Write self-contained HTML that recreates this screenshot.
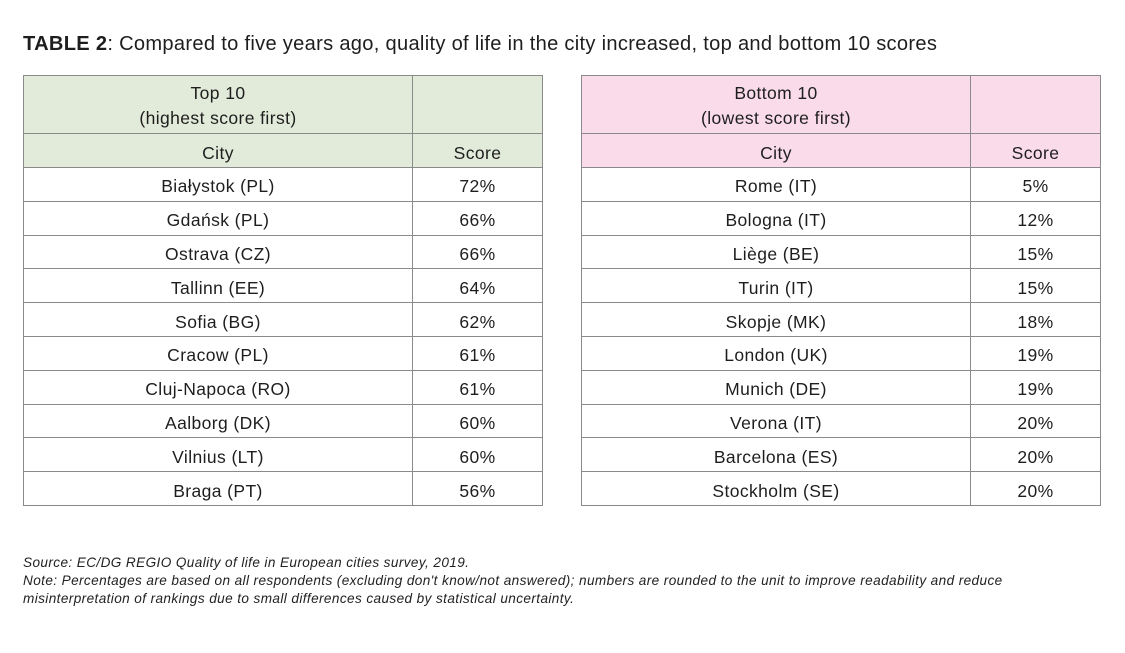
<!DOCTYPE html>
<html><head><meta charset="utf-8">
<style>
body{margin:0;background:#fff;width:1125px;height:653px;position:relative;overflow:hidden;font-family:"Liberation Sans",sans-serif;color:#1e1e1e;}
.title{position:absolute;left:23px;top:31px;font-size:20.1px;letter-spacing:0.3px;white-space:nowrap;line-height:26px;}
.title b{font-weight:bold;}
table{position:absolute;top:75px;border-collapse:collapse;font-size:17.5px;letter-spacing:0.4px;table-layout:fixed;}
td{border:1.5px solid #8a8a8a;text-align:center;padding:4px 0 0 0;line-height:20px;box-sizing:border-box;}
.h1 td{height:58px;line-height:25px;padding-top:3px;}
.h2 td{height:34px;}
.r td{height:33.8px;}
.g td.hd{background:#e2ead9;}
.p td.hd{background:#f9dbe9;}
.foot{position:absolute;left:23px;top:554px;font-size:13.6px;letter-spacing:0.39px;font-style:italic;line-height:18px;color:#222;white-space:nowrap;}
</style></head><body>
<div class="title"><b>TABLE 2</b>: Compared to five years ago, quality of life in the city increased, top and bottom 10 scores</div>

<table class="g" style="left:23px;width:519px;">
<colgroup><col style="width:389px"><col style="width:130px"></colgroup>
<tr class="h1"><td class="hd">Top 10<br>(highest score first)</td><td class="hd"></td></tr>
<tr class="h2"><td class="hd">City</td><td class="hd">Score</td></tr>
<tr class="r"><td>Białystok (PL)</td><td>72%</td></tr>
<tr class="r"><td>Gdańsk (PL)</td><td>66%</td></tr>
<tr class="r"><td>Ostrava (CZ)</td><td>66%</td></tr>
<tr class="r"><td>Tallinn (EE)</td><td>64%</td></tr>
<tr class="r"><td>Sofia (BG)</td><td>62%</td></tr>
<tr class="r"><td>Cracow (PL)</td><td>61%</td></tr>
<tr class="r"><td>Cluj-Napoca (RO)</td><td>61%</td></tr>
<tr class="r"><td>Aalborg (DK)</td><td>60%</td></tr>
<tr class="r"><td>Vilnius (LT)</td><td>60%</td></tr>
<tr class="r"><td>Braga (PT)</td><td>56%</td></tr>
</table>

<table class="p" style="left:581px;width:519px;">
<colgroup><col style="width:389px"><col style="width:130px"></colgroup>
<tr class="h1"><td class="hd">Bottom 10<br>(lowest score first)</td><td class="hd"></td></tr>
<tr class="h2"><td class="hd">City</td><td class="hd">Score</td></tr>
<tr class="r"><td>Rome (IT)</td><td>5%</td></tr>
<tr class="r"><td>Bologna (IT)</td><td>12%</td></tr>
<tr class="r"><td>Liège (BE)</td><td>15%</td></tr>
<tr class="r"><td>Turin (IT)</td><td>15%</td></tr>
<tr class="r"><td>Skopje (MK)</td><td>18%</td></tr>
<tr class="r"><td>London (UK)</td><td>19%</td></tr>
<tr class="r"><td>Munich (DE)</td><td>19%</td></tr>
<tr class="r"><td>Verona (IT)</td><td>20%</td></tr>
<tr class="r"><td>Barcelona (ES)</td><td>20%</td></tr>
<tr class="r"><td>Stockholm (SE)</td><td>20%</td></tr>
</table>

<div class="foot">Source: EC/DG REGIO Quality of life in European cities survey, 2019.<br>Note: Percentages are based on all respondents (excluding don't know/not answered); numbers are rounded to the unit to improve readability and reduce<br>misinterpretation of rankings due to small differences caused by statistical uncertainty.</div>
</body></html>
